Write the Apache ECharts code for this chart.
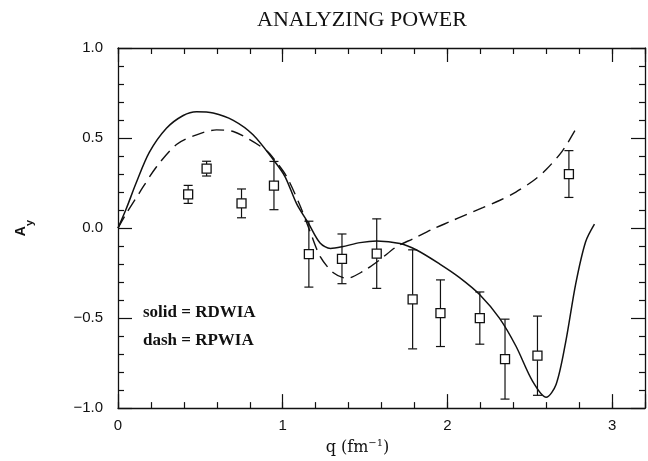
<!DOCTYPE html>
<html><head><meta charset="utf-8">
<script src="https://cdn.jsdelivr.net/npm/echarts@6/dist/echarts.min.js"></script>
<style>html,body{margin:0;padding:0;background:#fff}#c{width:648px;height:461px}</style>
</head><body><div id="c"></div>
<script>
const chartTitle = 'ANALYZING POWER';
const xTickLabels = ['0', '1', '2', '3'];
const yTickLabels = ['−1.0', '−0.5', '0.0', '0.5', '1.0'];
const legendLines = ['solid = RDWIA', 'dash = RPWIA'];

// measured data points
const dataQ   = [0.426, 0.538, 0.750, 0.947, 1.159, 1.360, 1.571, 1.789, 1.958, 2.197, 2.350, 2.547, 2.738];
const dataAy  = [0.187, 0.330, 0.137, 0.236, -0.145, -0.171, -0.142, -0.396, -0.473, -0.500, -0.728, -0.709, 0.300];
const dataErr = [0.050, 0.041, 0.080, 0.134, 0.183, 0.138, 0.193, 0.275, 0.185, 0.145, 0.222, 0.220, 0.130];

// solid = RDWIA
const solidQ  = [0, 0.05, 0.11, 0.19, 0.294, 0.396, 0.477, 0.578, 0.70, 0.82, 0.947, 1.014, 1.085, 1.156, 1.227, 1.29, 1.36, 1.47, 1.571, 1.712, 1.813, 1.954, 2.074, 2.197, 2.316, 2.416, 2.517, 2.60, 2.66, 2.718, 2.779, 2.839, 2.893];
const solidAy = [0, 0.107, 0.25, 0.42, 0.554, 0.625, 0.646, 0.639, 0.598, 0.518, 0.375, 0.286, 0.134, 0.027, -0.083, -0.113, -0.104, -0.081, -0.072, -0.086, -0.122, -0.2, -0.275, -0.37, -0.5, -0.655, -0.85, -0.94, -0.869, -0.635, -0.311, -0.077, 0.022];

// dash = RPWIA
const dashQ  = [0, 0.05, 0.13, 0.233, 0.355, 0.477, 0.598, 0.70, 0.80, 0.903, 0.947, 1.024, 1.105, 1.166, 1.229, 1.31, 1.39, 1.49, 1.59, 1.69, 1.793, 1.913, 2.014, 2.115, 2.215, 2.316, 2.416, 2.517, 2.60, 2.70, 2.78];
const dashAy = [0, 0.08, 0.196, 0.339, 0.464, 0.518, 0.545, 0.536, 0.491, 0.429, 0.384, 0.286, 0.125, -0.018, -0.16, -0.25, -0.279, -0.239, -0.176, -0.104, -0.059, -0.005, 0.035, 0.075, 0.113, 0.153, 0.2, 0.26, 0.325, 0.43, 0.55];

const INK = '#111';
const zip = (a, b) => a.map((v, i) => [v, b[i]]);

const axisLineStyle = { color: INK, width: 1.3 };
function xAx(pos, interval, len, labels, extra) {
  return Object.assign({
    type: 'value', position: pos, min: 0, max: 3.2, interval: interval,
    axisLine: { show: len < 10, onZero: false, lineStyle: axisLineStyle },
    axisTick: { show: true, inside: true, length: len, lineStyle: { color: INK, width: 1.2 } },
    axisLabel: { show: labels, margin: 10, color: INK, fontFamily: 'Liberation Sans', fontSize: 15,
      formatter: v => { const i = xTickLabels.indexOf(String(Math.round(v))); return Math.abs(v - Math.round(v)) < 1e-6 && i >= 0 ? xTickLabels[i] : ''; } },
    splitLine: { show: false }
  }, extra || {});
}
function yAx(pos, labels, extra) {
  return Object.assign({
    type: 'value', position: pos, min: -1, max: 1, interval: 0.5,
    axisLine: { show: true, onZero: false, lineStyle: axisLineStyle },
    axisTick: { show: true, inside: true, length: 14, lineStyle: { color: INK, width: 1.2 } },
    minorTick: { show: true, splitNumber: 5, length: 6, lineStyle: { color: INK, width: 1.2 } },
    axisLabel: { show: labels, margin: 15, color: INK, fontFamily: 'Liberation Sans', fontSize: 15,
      formatter: v => yTickLabels[Math.round((v + 1) / 0.5)] },
    splitLine: { show: false }
  }, extra || {});
}

const chart = echarts.init(document.getElementById('c'), null, { renderer: 'canvas' });
chart.setOption({
  animation: false,
  backgroundColor: '#fff',
  grid: { left: 118, right: 2, top: 48, bottom: 43 },
  xAxis: [
    xAx('bottom', 0.2, 6, false),
    xAx('bottom', 1, 14, true, {
      name: '{t|q (fm}{s|−1}{t|)}', nameLocation: 'middle', nameGap: 27,
      nameTextStyle: { padding: [0, 48, 0, 0], rich: {
        t: { fontFamily: 'DejaVu Serif', fontSize: 16, color: INK, lineHeight: 18, verticalAlign: 'bottom' },
        s: { fontFamily: 'DejaVu Serif', fontSize: 10, color: INK, lineHeight: 18, verticalAlign: 'top' } } }
    }),
    xAx('top', 0.2, 6, false),
    xAx('top', 1, 14, false)
  ],
  yAxis: [
    yAx('left', true, {
      name: '{a|A}{b|y}', nameLocation: 'middle', nameRotate: 90, nameGap: 83,
      nameTextStyle: { rich: {
        a: { fontFamily: 'Liberation Sans', fontWeight: 'bold', fontSize: 14, color: INK, lineHeight: 16, verticalAlign: 'top' },
        b: { fontFamily: 'Liberation Sans', fontWeight: 'bold', fontSize: 11, color: INK, lineHeight: 21, verticalAlign: 'bottom' } } }
    }),
    yAx('right', false)
  ],
  graphic: [
    { type: 'text', x: 362, y: 20, style: { text: chartTitle, fill: INK, font: '22px "Liberation Serif"', textAlign: 'center', textVerticalAlign: 'middle' } },
    { type: 'text', x: 143, y: 313, style: { text: legendLines[0], fill: INK, font: 'bold 17px "Liberation Serif"', textAlign: 'left', textVerticalAlign: 'middle' } },
    { type: 'text', x: 143, y: 341, style: { text: legendLines[1], fill: INK, font: 'bold 17px "Liberation Serif"', textAlign: 'left', textVerticalAlign: 'middle' } }
  ],
  series: [
    { type: 'line', name: 'RDWIA', xAxisIndex: 0, yAxisIndex: 0, data: zip(solidQ, solidAy), smooth: 0.3,
      showSymbol: false, lineStyle: { color: INK, width: 1.5 } },
    { type: 'line', name: 'RPWIA', xAxisIndex: 0, yAxisIndex: 0, data: zip(dashQ, dashAy), smooth: 0.3,
      showSymbol: false, lineStyle: { color: INK, width: 1.4, type: [13, 7] } },
    { type: 'custom', name: 'data', xAxisIndex: 0, yAxisIndex: 0,
      data: dataQ.map((q, i) => [q, dataAy[i], dataErr[i]]),
      renderItem: (params, api) => {
        const x = api.value(0), y = api.value(1), e = api.value(2);
        const c = api.coord([x, y]), t = api.coord([x, y + e]), b = api.coord([x, y - e]);
        const h = 4.5, cw = 4.5;
        const st = { stroke: INK, lineWidth: 1.2 };
        return { type: 'group', children: [
          { type: 'line', shape: { x1: c[0], y1: t[1], x2: c[0], y2: c[1] - h }, style: st },
          { type: 'line', shape: { x1: c[0], y1: c[1] + h, x2: c[0], y2: b[1] }, style: st },
          { type: 'line', shape: { x1: c[0] - cw, y1: t[1], x2: c[0] + cw, y2: t[1] }, style: st },
          { type: 'line', shape: { x1: c[0] - cw, y1: b[1], x2: c[0] + cw, y2: b[1] }, style: st },
          { type: 'rect', shape: { x: c[0] - h, y: c[1] - h, width: 2 * h, height: 2 * h }, style: { fill: '#fff', stroke: INK, lineWidth: 1.3 } }
        ] };
      } }
  ]
});
</script></body></html>
